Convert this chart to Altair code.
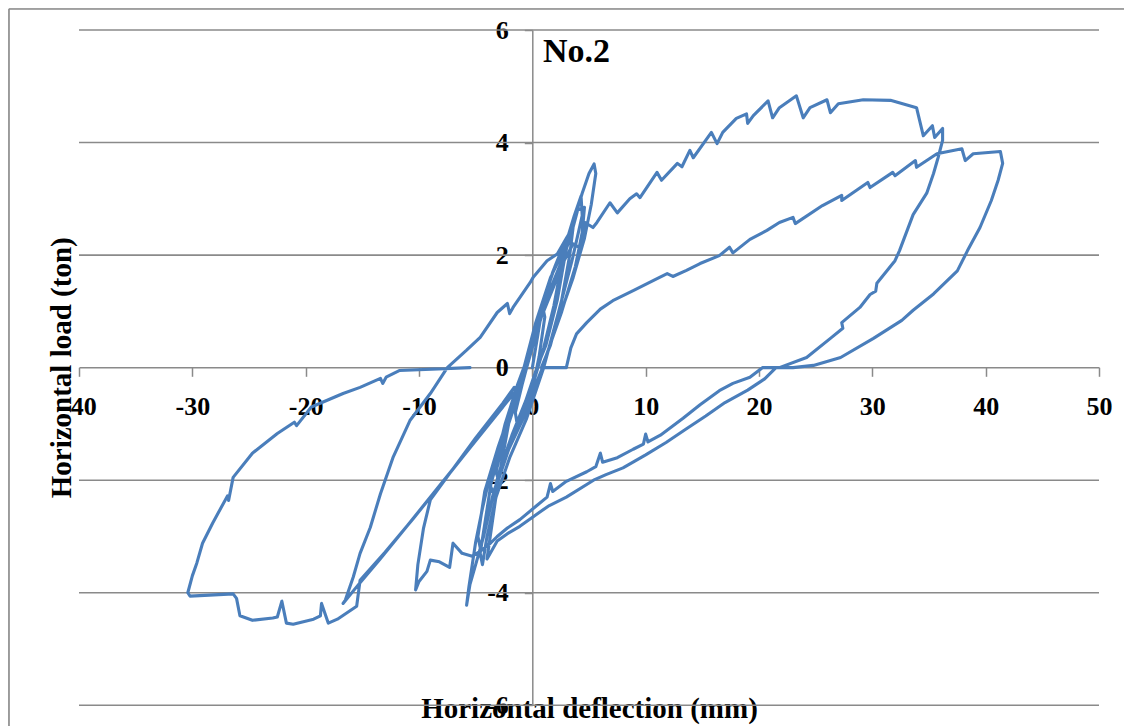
import altair as alt
import pandas as pd

# ---------------- data (deflection mm, load ton), in loading order ----------------
small_x = [0.0, 0.5, 0.9, 1.1, 0.6, 0.0, -0.9, -1.3, -1.5, -0.9, -0.5,
           0.2, 1.0, 2.0, 2.7, 2.9, 2.2, 1.2, 0.4, -0.6, -1.8, -3.0, -3.4, -3.7, -2.6, -1.6, -0.8,
           0.0, 0.9, 1.8, 2.5, 2.6, 1.9, 1.0, 0.2, -0.9, -2.0, -3.0, -3.2, -2.3, -1.3, -0.6,
           0.2, 1.2, 2.4, 3.4, 4.0, 4.6, 4.4, 3.8, 2.6, 1.2, 0.5, -0.8, -2.2, -3.4, -4.1, -4.6, -4.8,
           -4.2, -3.0, -1.8, -1.0,
           0.3, 1.6, 2.8, 3.7, 4.3, 4.4, 3.5, 2.2, 1.0, -0.5, -2.0, -3.2, -4.0, -4.4, -4.6,
           -3.6, -2.4, -1.3,
           -0.2, 0.8, 2.0, 3.0, 3.8, 4.4, 5.0, 5.45, 5.6, 5.2, 4.6, 3.6, 2.2, 0.9, -0.3, -1.6,
           -2.8, -3.6, -4.3, -5.0, -5.5, -5.8, -5.6,
           -5.0, -4.4, -3.6, -2.4, -1.2, -0.3, 0.8, 1.8, 2.8, 3.6]
small_y = [0.0, 0.6, 1.1, 0.9, 0.2, -0.4, -0.8, -1.05, -0.8, -0.3, 0.0,
           0.5, 1.2, 1.8, 2.15, 2.0, 1.2, 0.4, 0.0, -0.6, -1.2, -1.9, -2.25, -2.1, -1.3, -0.7, -0.1,
           0.4, 1.1, 1.7, 2.05, 1.85, 1.1, 0.35, -0.2, -0.8, -1.4, -2.0, -1.85, -1.1, -0.45, 0.0,
           0.6, 1.2, 1.75, 2.35, 2.8, 2.85, 2.4, 1.8, 1.0, 0.2, -0.3, -0.9, -1.5, -2.2, -2.8, -3.2, -3.0,
           -2.2, -1.4, -0.7, -0.2,
           0.8, 1.6, 2.1, 2.7, 3.05, 2.7, 1.9, 0.9, 0.0, -0.9, -1.6, -2.3, -3.0, -3.5, -3.3,
           -2.0, -1.0, -0.3,
           0.3, 1.0, 1.6, 2.1, 2.7, 3.1, 3.45, 3.62, 3.45, 2.9, 2.3, 1.6, 0.8, 0.0, -0.6, -1.2,
           -1.8, -2.4, -3.0, -3.5, -3.85, -4.22, -3.9,
           -3.1, -2.5, -1.8, -1.1, -0.4, 0.2, 0.9, 1.4, 1.9, 2.2]

envA_x = [4.2, 4.65, 5.35, 5.7, 6.85, 7.5, 8.6, 9.2, 9.5, 11.0, 11.4, 12.8, 13.2, 13.9, 14.2,
          15.8, 16.3, 16.8, 18.0, 18.9, 19.0, 19.5, 20.8, 21.2, 21.8, 23.3, 23.9, 24.5, 26.0,
          26.3, 27.0, 29.2, 31.6, 33.9, 34.5, 35.3, 35.5, 36.2]
envA_y = [2.13, 2.58, 2.49, 2.58, 2.93, 2.75, 3.0, 3.09, 3.02, 3.47, 3.33, 3.63, 3.57, 3.86, 3.73,
          4.18, 3.98, 4.18, 4.43, 4.51, 4.34, 4.48, 4.74, 4.44, 4.62, 4.83, 4.44, 4.62, 4.76,
          4.53, 4.69, 4.76, 4.75, 4.62, 4.12, 4.30, 4.09, 4.25]

unA_x = [36.2, 35.8, 35.4, 34.8, 33.6, 32.4, 32.0, 30.4, 30.3, 29.8, 28.9, 27.3, 27.4, 26.3,
         24.2, 21.8, 20.3]
unA_y = [4.04, 3.73, 3.45, 3.10, 2.72, 2.08, 1.90, 1.50, 1.36, 1.30, 1.07, 0.80, 0.70, 0.52,
         0.18, 0.0, 0.0]

nrU_x = [19.2, 17.7, 16.5, 14.8, 13.3, 11.3, 10.2, 10.0, 9.8, 8.9, 7.5, 6.2, 6.0, 5.6, 4.8,
         3.0, 1.8, 1.6, 1.3, 0.4, -1.1, -2.2, -3.1, -3.7]
nrU_y = [-0.17, -0.28, -0.41, -0.66, -0.90, -1.20, -1.32, -1.18, -1.36, -1.45, -1.60, -1.68,
         -1.52, -1.76, -1.85, -2.02, -2.20, -2.06, -2.30, -2.45, -2.70, -2.85, -3.00, -3.12]

neg10_x = [-4.5, -5.3, -6.2, -7.0, -7.3, -8.2, -9.0, -9.3, -10.0, -10.3, -10.1, -9.6, -9.0,
           -7.0, -5.0, -2.6, -1.6, -2.6, -5.0, -8.0, -11.0, -13.5, -15.2, -16.7]
neg10_y = [-3.25, -3.35, -3.30, -3.12, -3.55, -3.45, -3.42, -3.62, -3.80, -3.95, -3.50, -2.85,
           -2.35, -1.80, -1.25, -0.63, -0.35, -0.70, -1.30, -2.05, -2.80, -3.42, -3.82, -4.19]

relL_x = [-16.5, -15.8, -15.2, -14.3, -13.4, -12.3, -10.8, -9.0, -7.5, -5.8, -4.6, -3.1, -2.2,
          -2.0, -1.7, -0.2, 0.06, 1.3, 2.2, 3.0, 3.6, 3.3, 2.5, 1.6, 0.8, 3.0]
relL_y = [-4.13, -3.72, -3.30, -2.84, -2.24, -1.60, -0.94, -0.46, 0.0, 0.31, 0.54, 0.98, 1.14,
          0.96, 1.07, 1.51, 1.60, 1.90, 2.02, 2.30, 2.50, 2.00, 1.10, 0.40, 0.0, 0.0]

envB_x = [3.4, 3.9, 4.8, 6.0, 7.1, 8.9, 10.7, 11.9, 12.4, 13.6, 14.8, 16.5, 17.4, 17.7, 19.2,
          20.7, 21.8, 23.0, 23.2, 25.6, 27.3, 27.3, 29.6, 29.8, 31.8, 32.0, 33.8, 33.9, 35.7,
          37.9, 38.2, 38.9, 41.3, 41.5]
envB_y = [0.35, 0.60, 0.80, 1.04, 1.19, 1.37, 1.55, 1.67, 1.62, 1.73, 1.85, 1.99, 2.14, 2.04,
          2.28, 2.44, 2.58, 2.67, 2.56, 2.88, 3.06, 2.97, 3.29, 3.20, 3.47, 3.41, 3.68, 3.56,
          3.80, 3.89, 3.68, 3.80, 3.84, 3.63]

unB_x = [41.1, 40.5, 39.5, 38.4, 37.5, 35.4, 33.6, 32.6, 30.1, 27.2, 24.8, 23.0, 21.5]
unB_y = [3.33, 2.97, 2.49, 2.08, 1.72, 1.31, 1.02, 0.84, 0.52, 0.18, 0.04, 0.0, 0.0]

nrL_x = [20.5, 19.0, 17.0, 15.3, 13.5, 11.8, 10.0, 8.0, 6.5, 5.4, 3.0, 1.5, 0.7, -1.1, -2.2,
         -3.1, -4.0, -3.0, -2.0, -1.6, -4.5, -7.5, -10.5, -13.0, -15.2]
nrL_y = [-0.20, -0.40, -0.62, -0.86, -1.10, -1.33, -1.55, -1.78, -1.90, -2.00, -2.30, -2.45,
         -2.56, -2.82, -2.95, -3.08, -3.40, -2.00, -0.90, -0.45, -1.17, -1.93, -2.68, -3.28,
         -3.78]

neg30_x = [-15.5, -17.2, -18.0, -18.6, -18.7, -19.3, -21.1, -21.7, -22.1, -22.5, -22.9, -24.7,
           -25.8, -26.1, -26.4, -30.2, -30.4, -30.0, -29.6, -29.1, -28.2, -26.9, -26.8, -26.4,
           -24.7, -22.5, -21.0, -20.8, -19.5, -16.7, -15.2, -13.4, -13.2, -12.9, -11.7, -5.5]
neg30_y = [-4.24, -4.47, -4.54, -4.19, -4.41, -4.47, -4.56, -4.54, -4.15, -4.43, -4.45, -4.49,
           -4.41, -4.10, -4.02, -4.06, -4.00, -3.70, -3.47, -3.12, -2.76, -2.28, -2.36, -1.95,
           -1.52, -1.17, -0.97, -1.03, -0.70, -0.46, -0.35, -0.19, -0.28, -0.17, -0.05, 0.0]

x_ticks = [-40, -30, -20, -10, 0, 10, 20, 30, 40, 50]
y_ticks = [-6, -4, -2, 0, 2, 4, 6]
panel_label = "No.2"
x_title = "Horizontal deflection (mm)"
y_title = "Horizontal load (ton)"

# ---------------- build table ----------------
segments = [(small_x, small_y), (envA_x, envA_y), (unA_x, unA_y), (nrU_x, nrU_y),
            (neg10_x, neg10_y), (relL_x, relL_y), (envB_x, envB_y), (unB_x, unB_y),
            (nrL_x, nrL_y), (neg30_x, neg30_y)]
rows = []
k = 0
for xs, ys in segments:
    for a, b in zip(xs, ys):
        rows.append({"defl": a, "load": b, "i": k})
        k += 1
df = pd.DataFrame(rows)

W, H = 1116, 718
FONT = "Liberation Serif"
GREY = "#8a8a8a"

xs_ = alt.Scale(domain=[-40, 50], range=[71, 1091], nice=False, zero=False)
ys_ = alt.Scale(domain=[-6, 6], range=[697.3, 22], nice=False, zero=False)

x_zero_px = 359.3   # view y of load = 0
y_zero_px = 524.3   # view x of deflection = 0

x_axis = alt.Axis(values=x_ticks, offset=-(H - x_zero_px), grid=False,
                  domainColor=GREY, domainWidth=1.5, tickColor=GREY, tickWidth=1.5, tickSize=9,
                  labelExpr="'' + datum.value",
                  labelFont=FONT, labelFontSize=26, labelFontWeight="bold", labelColor="black",
                  labelPadding=17, labelFlush=False, labelOverlap=False,
                  title=x_title, titleFont=FONT, titleFontSize=29, titleFontWeight="bold",
                  titleColor="black", titleX=581, titleY=350, titleBaseline="alphabetic",
                  titleAlign="center")
y_axis = alt.Axis(values=y_ticks, offset=-y_zero_px, grid=False,
                  domainColor=GREY, domainWidth=1.5, tickColor=GREY, tickWidth=1.5, tickSize=8,
                  labelExpr="'' + datum.value",
                  labelFont=FONT, labelFontSize=26, labelFontWeight="bold", labelColor="black",
                  labelPadding=16, labelFlush=False, labelOverlap=False,
                  title=y_title, titleFont=FONT, titleFontSize=29, titleFontWeight="bold",
                  titleColor="black", titleX=-462, titleY=359.3, titleAngle=270,
                  titleBaseline="alphabetic", titleAlign="center")

grid = alt.Chart(pd.DataFrame({"g": [v for v in y_ticks if v != 0]})).mark_rule(
    color=GREY, strokeWidth=1.6
).encode(
    y=alt.Y("g:Q", scale=ys_, axis=y_axis),
    x=alt.XDatum(-40, scale=xs_, axis=x_axis),
    x2=alt.X2Datum(50),
)

curve = alt.Chart(df).mark_line(
    color="#4A7EBB", strokeWidth=3.1, strokeJoin="round", strokeCap="round"
).encode(
    x=alt.X("defl:Q", scale=xs_, axis=x_axis),
    y=alt.Y("load:Q", scale=ys_, axis=y_axis),
    order="i:Q",
)

one = pd.DataFrame({"a": [0]})
border_left = alt.Chart(one).mark_rule(color=GREY, strokeWidth=1.6).encode(
    x=alt.value(1), y=alt.value(1), y2=alt.value(H))
border_top = alt.Chart(one).mark_rule(color=GREY, strokeWidth=1.6).encode(
    x=alt.value(1), x2=alt.value(W), y=alt.value(1))

label = alt.Chart(one).mark_text(
    text=panel_label, font=FONT, fontSize=34, fontWeight="bold", color="black",
    align="left", baseline="alphabetic"
).encode(x=alt.value(535), y=alt.value(54))

chart = alt.layer(grid, curve, border_left, border_top, label).properties(
    width=W, height=H, padding=0,
    autosize=alt.AutoSizeParams(type="none"),
).configure_view(stroke=None).configure(background="white")

chart.save("out.html", embed_options={"renderer": "svg", "actions": False})
